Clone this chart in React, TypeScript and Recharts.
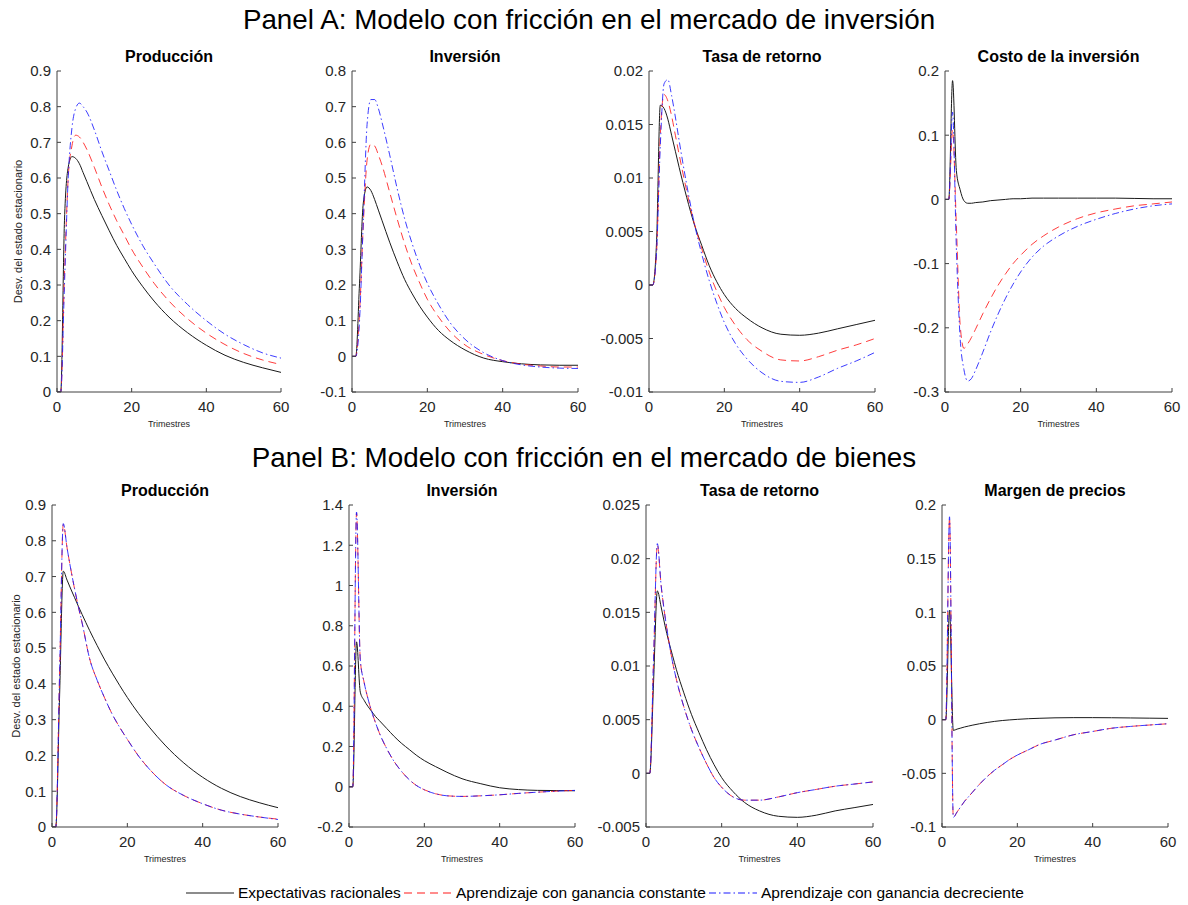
import React from 'react';
import { LineChart, Line, XAxis, YAxis } from 'recharts';

// trimestres (x) — same sampling for every series
const periods = [0, 1, 2, 3, 4, 5, 6, 7, 8, 10, 12, 14, 16, 18, 20, 23, 26, 30, 35, 40, 45, 50, 55, 60];
const xTicks = [0, 20, 40, 60];

// Panel A: fricción en el mercado de inversión
const aProdRacional = [0, 0, 0.48, 0.63, 0.66, 0.655, 0.64, 0.615, 0.59, 0.54, 0.495, 0.452, 0.411, 0.375, 0.34, 0.295, 0.255, 0.21, 0.166, 0.131, 0.103, 0.083, 0.068, 0.055];
const aProdConstante = [0, 0, 0.33, 0.6, 0.69, 0.72, 0.715, 0.7, 0.68, 0.63, 0.575, 0.525, 0.48, 0.44, 0.4, 0.35, 0.305, 0.255, 0.205, 0.165, 0.133, 0.108, 0.09, 0.077];
const aProdDecreciente = [0, 0, 0.3, 0.6, 0.74, 0.795, 0.81, 0.8, 0.785, 0.735, 0.675, 0.62, 0.565, 0.515, 0.47, 0.41, 0.36, 0.3, 0.245, 0.2, 0.162, 0.133, 0.11, 0.095];

const aInvRacional = [0, 0, 0.205, 0.43, 0.475, 0.465, 0.44, 0.41, 0.38, 0.32, 0.265, 0.215, 0.175, 0.14, 0.11, 0.072, 0.045, 0.018, -0.005, -0.015, -0.021, -0.024, -0.025, -0.025];
const aInvConstante = [0, 0, 0.12, 0.37, 0.55, 0.595, 0.59, 0.565, 0.535, 0.46, 0.385, 0.315, 0.255, 0.205, 0.16, 0.11, 0.07, 0.032, 0.005, -0.012, -0.022, -0.027, -0.03, -0.03];
const aInvDecreciente = [0, 0, 0.1, 0.38, 0.65, 0.72, 0.72, 0.695, 0.655, 0.565, 0.47, 0.385, 0.315, 0.255, 0.205, 0.145, 0.095, 0.048, 0.01, -0.012, -0.024, -0.03, -0.033, -0.034];

const aTasaRacional = [0, 0, 0.004, 0.0168, 0.0165, 0.0155, 0.014, 0.0125, 0.011, 0.0082, 0.0057, 0.0037, 0.0018, 0.0003, -0.0009, -0.0022, -0.0031, -0.004, -0.0046, -0.0047, -0.0045, -0.0041, -0.0037, -0.0033];
const aTasaConstante = [0, 0, 0.003, 0.014, 0.0178, 0.0172, 0.0158, 0.014, 0.0122, 0.0088, 0.0058, 0.0034, 0.0012, -0.0006, -0.0021, -0.0038, -0.0051, -0.0062, -0.007, -0.0071, -0.0067, -0.0061, -0.0056, -0.005];
const aTasaDecreciente = [0, 0, 0.003, 0.013, 0.0188, 0.0192, 0.0177, 0.0157, 0.0135, 0.0094, 0.0058, 0.0029, 0.0004, -0.0017, -0.0035, -0.0055, -0.0069, -0.0082, -0.009, -0.0091, -0.0086, -0.0078, -0.0071, -0.0063];

const aCostoRacional = [0, 0, 0.185, 0.045, 0.015, -0.002, -0.006, -0.006, -0.005, -0.004, -0.002, -0.001, 0, 0.001, 0.001, 0.002, 0.002, 0.002, 0.002, 0.002, 0.002, 0.0015, 0.001, 0.001];
const aCostoConstante = [0, 0, 0.108, -0.04, -0.195, -0.232, -0.225, -0.215, -0.203, -0.178, -0.155, -0.134, -0.116, -0.1, -0.087, -0.07, -0.057, -0.043, -0.03, -0.021, -0.015, -0.01, -0.007, -0.004];
const aCostoDecreciente = [0, 0, 0.136, -0.076, -0.216, -0.265, -0.283, -0.279, -0.267, -0.238, -0.207, -0.179, -0.154, -0.132, -0.113, -0.09, -0.073, -0.057, -0.042, -0.031, -0.022, -0.015, -0.01, -0.007];

// Panel B: fricción en el mercado de bienes
const bProdRacional = [0, 0, 0.36, 0.715, 0.69, 0.665, 0.641, 0.617, 0.594, 0.549, 0.507, 0.467, 0.43, 0.395, 0.362, 0.317, 0.277, 0.229, 0.179, 0.139, 0.108, 0.085, 0.068, 0.054];
const bProdConstante = [0, 0, 0.42, 0.846, 0.78, 0.72, 0.665, 0.615, 0.57, 0.47, 0.41, 0.36, 0.315, 0.278, 0.245, 0.198, 0.16, 0.12, 0.088, 0.065, 0.047, 0.036, 0.028, 0.022];
const bProdDecreciente = [0, 0, 0.42, 0.848, 0.78, 0.72, 0.666, 0.616, 0.57, 0.47, 0.41, 0.36, 0.315, 0.278, 0.245, 0.198, 0.16, 0.12, 0.088, 0.065, 0.047, 0.036, 0.028, 0.021];

const bInvRacional = [0, 0, 0.72, 0.47, 0.43, 0.4, 0.375, 0.35, 0.33, 0.29, 0.25, 0.215, 0.185, 0.155, 0.13, 0.1, 0.072, 0.04, 0.015, -0.005, -0.014, -0.018, -0.019, -0.02];
const bInvConstante = [0, 0, 1.36, 0.63, 0.52, 0.44, 0.375, 0.32, 0.27, 0.19, 0.125, 0.075, 0.035, 0.005, -0.015, -0.035, -0.045, -0.048, -0.045, -0.04, -0.033, -0.027, -0.022, -0.018];
const bInvDecreciente = [0, 0, 1.365, 0.63, 0.52, 0.44, 0.375, 0.32, 0.27, 0.19, 0.125, 0.075, 0.035, 0.005, -0.015, -0.035, -0.045, -0.048, -0.045, -0.04, -0.033, -0.027, -0.022, -0.018];

const bTasaRacional = [0, 0, 0.0085, 0.017, 0.0155, 0.0138, 0.0123, 0.011, 0.0097, 0.0075, 0.0055, 0.0038, 0.0022, 0.0008, -0.0004, -0.0017, -0.0027, -0.0035, -0.004, -0.0041, -0.0039, -0.0035, -0.0032, -0.0029];
const bTasaConstante = [0, 0, 0.0105, 0.0213, 0.0175, 0.0147, 0.0124, 0.0104, 0.0088, 0.0062, 0.0041, 0.0024, 0.0009, -0.0004, -0.0013, -0.0022, -0.0025, -0.0025, -0.0022, -0.0018, -0.0015, -0.0012, -0.001, -0.0008];
const bTasaDecreciente = [0, 0, 0.0106, 0.0214, 0.0175, 0.0147, 0.0124, 0.0104, 0.0088, 0.0062, 0.0041, 0.0024, 0.0009, -0.0004, -0.0013, -0.0022, -0.0025, -0.0025, -0.0022, -0.0018, -0.0015, -0.0012, -0.001, -0.0008];

const bMargenRacional = [0, 0, 0.102, -0.01, -0.0088, -0.0078, -0.0068, -0.006, -0.0052, -0.0038, -0.0026, -0.0016, -0.0008, -0.0002, 0.0003, 0.0009, 0.0013, 0.0017, 0.0019, 0.0019, 0.0018, 0.0016, 0.0014, 0.0012];
const bMargenConstante = [0, 0, 0.188, -0.091, -0.086, -0.081, -0.076, -0.072, -0.068, -0.06, -0.053, -0.047, -0.042, -0.037, -0.033, -0.028, -0.023, -0.019, -0.014, -0.011, -0.008, -0.0063, -0.005, -0.0038];
const bMargenDecreciente = [0, 0, 0.189, -0.091, -0.086, -0.081, -0.076, -0.072, -0.068, -0.06, -0.053, -0.047, -0.042, -0.037, -0.033, -0.028, -0.023, -0.019, -0.014, -0.011, -0.008, -0.0063, -0.005, -0.0038];

// y tick labels
const ticksProd = [0, 0.1, 0.2, 0.3, 0.4, 0.5, 0.6, 0.7, 0.8, 0.9];
const ticksInvA = [-0.1, 0, 0.1, 0.2, 0.3, 0.4, 0.5, 0.6, 0.7, 0.8];
const ticksTasaA = [-0.01, -0.005, 0, 0.005, 0.01, 0.015, 0.02];
const ticksCosto = [-0.3, -0.2, -0.1, 0, 0.1, 0.2];
const ticksInvB = [-0.2, 0, 0.2, 0.4, 0.6, 0.8, 1, 1.2, 1.4];
const ticksTasaB = [-0.005, 0, 0.005, 0.01, 0.015, 0.02, 0.025];
const ticksMargen = [-0.1, -0.05, 0, 0.05, 0.1, 0.15, 0.2];

const seriesNames = ['Expectativas racionales', 'Aprendizaje con ganancia constante', 'Aprendizaje con ganancia decreciente'];

const TEXT = '#262626';
const AXIS = '#404040';
const BLACK = '#1a1a1a';
const RED = '#ff1a1a';
const BLUE = '#1a1aff';
const RED_DASH = '8 5';
const BLUE_DASH = '7 3 1.5 3';

const Y_W = 56;
const M_TOP = 10;
const M_RIGHT = 10;
const X_H = 40;

const fmt = (v: number) => String(Number(v.toFixed(4)));

interface SubplotProps {
  title: string;
  left: number;
  top: number;
  w: number;
  h: number;
  yTicks: number[];
  racional: number[];
  constante: number[];
  decreciente: number[];
  yLabelX?: number;
}

const Subplot = ({ title, left, top, w, h, yTicks, racional, constante, decreciente, yLabelX }: SubplotProps) => {
  const data = periods.map((t, i) => ({
    t,
    racional: racional[i],
    constante: constante[i],
    decreciente: decreciente[i],
  }));
  const domain: [number, number] = [yTicks[0], yTicks[yTicks.length - 1]];
  const chartLeft = left - Y_W;
  const yLabel = yLabelX !== undefined
    ? {
        value: 'Desv. del estado estacionario',
        angle: -90,
        position: 'insideLeft' as const,
        offset: yLabelX - chartLeft,
        fontSize: 11,
        fill: TEXT,
        style: { textAnchor: 'middle' },
      }
    : undefined;

  return (
    <>
      <div
        style={{
          position: 'absolute',
          left,
          top: top - 22,
          width: w,
          textAlign: 'center',
          fontWeight: 'bold',
          fontSize: 16,
          lineHeight: '16px',
          color: '#000',
        }}
      >
        {title}
      </div>
      <div style={{ position: 'absolute', left: chartLeft, top: top - M_TOP }}>
        <LineChart
          width={w + Y_W + M_RIGHT}
          height={h + M_TOP + X_H}
          data={data}
          margin={{ top: M_TOP, right: M_RIGHT, bottom: 0, left: 0 }}
        >
          <XAxis
            dataKey="t"
            type="number"
            domain={[0, 60]}
            ticks={xTicks}
            interval={0}
            height={X_H}
            tickSize={-4}
            tickMargin={13}
            stroke={AXIS}
            tick={{ fill: TEXT, fontSize: 15 }}
            allowDataOverflow
            label={{ value: 'Trimestres', position: 'insideBottom', offset: 5, fontSize: 9, fill: TEXT }}
          />
          <XAxis
            xAxisId="top"
            orientation="top"
            dataKey="t"
            type="number"
            domain={[0, 60]}
            ticks={xTicks}
            interval={0}
            height={0}
            tickSize={-4}
            tick={false}
            stroke={AXIS}
            allowDataOverflow
          />
          <YAxis
            type="number"
            domain={domain}
            ticks={yTicks}
            interval={0}
            width={Y_W}
            tickSize={-4}
            tickMargin={10}
            stroke={AXIS}
            tick={{ fill: TEXT, fontSize: 15 }}
            tickFormatter={fmt}
            allowDataOverflow
            label={yLabel}
          />
          <YAxis
            yAxisId="right"
            orientation="right"
            type="number"
            domain={domain}
            ticks={yTicks}
            interval={0}
            width={0}
            tickSize={-4}
            tick={false}
            stroke={AXIS}
            allowDataOverflow
          />
          <Line
            dataKey="racional"
            name={seriesNames[0]}
            type="monotone"
            stroke={BLACK}
            strokeWidth={1}
            dot={false}
            isAnimationActive={false}
          />
          <Line
            dataKey="constante"
            name={seriesNames[1]}
            type="monotone"
            stroke={RED}
            strokeWidth={1}
            strokeDasharray={RED_DASH}
            strokeOpacity={0.85}
            dot={false}
            isAnimationActive={false}
          />
          <Line
            dataKey="decreciente"
            name={seriesNames[2]}
            type="monotone"
            stroke={BLUE}
            strokeWidth={1}
            strokeDasharray={BLUE_DASH}
            strokeOpacity={0.85}
            dot={false}
            isAnimationActive={false}
          />
        </LineChart>
      </div>
    </>
  );
};

const PanelTitle = ({ text, top, center }: { text: string; top: number; center: number }) => (
  <div
    style={{
      position: 'absolute',
      left: center - 500,
      width: 1000,
      top,
      textAlign: 'center',
      fontSize: 27.8,
      lineHeight: '28px',
      color: '#000',
    }}
  >
    {text}
  </div>
);

const LegendItem = ({ x, color, dash, label }: { x: number; color: string; dash?: string; label: string }) => (
  <div style={{ position: 'absolute', left: x, top: 884, height: 18, display: 'flex', alignItems: 'center' }}>
    <svg width={50} height={18}>
      <line x1={0} y1={9} x2={48} y2={9} stroke={color} strokeWidth={1.2} strokeDasharray={dash} />
    </svg>
    <span style={{ fontSize: 15.5, lineHeight: '18px', color: '#000', marginLeft: 2 }}>{label}</span>
  </div>
);

export default function App() {
  const topA = 71;
  const topB = 505;
  const hA = 321;
  const hB = 322;
  return (
    <div
      style={{
        position: 'absolute',
        left: 0,
        top: 0,
        width: 1188,
        height: 905,
        background: '#fff',
        fontFamily: "'Liberation Sans', Arial, Helvetica, sans-serif",
      }}
    >
      <PanelTitle text="Panel A: Modelo con fricción en el mercado de inversión" top={6} center={589} />
      <PanelTitle text="Panel B: Modelo con fricción en el mercado de bienes" top={444} center={584} />

      <Subplot title="Producción" left={57} top={topA} w={224} h={hA} yTicks={ticksProd}
        racional={aProdRacional} constante={aProdConstante} decreciente={aProdDecreciente} yLabelX={18} />
      <Subplot title="Inversión" left={352} top={topA} w={226} h={hA} yTicks={ticksInvA}
        racional={aInvRacional} constante={aInvConstante} decreciente={aInvDecreciente} />
      <Subplot title="Tasa de retorno" left={649} top={topA} w={226} h={hA} yTicks={ticksTasaA}
        racional={aTasaRacional} constante={aTasaConstante} decreciente={aTasaDecreciente} />
      <Subplot title="Costo de la inversión" left={945} top={topA} w={227} h={hA} yTicks={ticksCosto}
        racional={aCostoRacional} constante={aCostoConstante} decreciente={aCostoDecreciente} />

      <Subplot title="Producción" left={52} top={topB} w={226} h={hB} yTicks={ticksProd}
        racional={bProdRacional} constante={bProdConstante} decreciente={bProdDecreciente} yLabelX={16} />
      <Subplot title="Inversión" left={349} top={topB} w={226} h={hB} yTicks={ticksInvB}
        racional={bInvRacional} constante={bInvConstante} decreciente={bInvDecreciente} />
      <Subplot title="Tasa de retorno" left={646} top={topB} w={227} h={hB} yTicks={ticksTasaB}
        racional={bTasaRacional} constante={bTasaConstante} decreciente={bTasaDecreciente} />
      <Subplot title="Margen de precios" left={942} top={topB} w={226} h={hB} yTicks={ticksMargen}
        racional={bMargenRacional} constante={bMargenConstante} decreciente={bMargenDecreciente} />

      <LegendItem x={186} color={BLACK} label={seriesNames[0]} />
      <LegendItem x={404} color={RED} dash={RED_DASH} label={seriesNames[1]} />
      <LegendItem x={709} color={BLUE} dash={BLUE_DASH} label={seriesNames[2]} />
    </div>
  );
}
